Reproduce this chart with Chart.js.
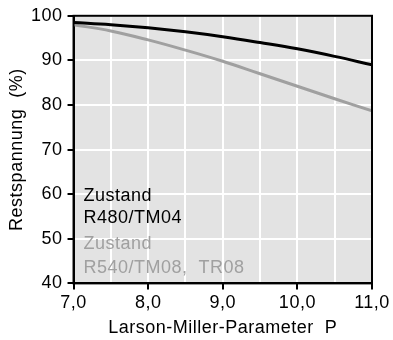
<!DOCTYPE html>
<html>
<head>
<meta charset="utf-8">
<script src="https://cdn.jsdelivr.net/npm/chart.js@4"></script>
<style>
  html, body { margin: 0; padding: 0; background: #fff; }
  #wrap { width: 393px; height: 340px; }
</style>
</head>
<body>
<div id="wrap"><canvas id="chart" width="393" height="340"></canvas></div>
<script>
// Larson-Miller-Parameter P
const pValues = [7.0, 7.5, 8.0, 8.5, 9.0, 9.5, 10.0, 10.5, 11.0];
// Restspannung (%) - Zustand R480/TM04
const restR480 = [98.5, 98.0, 97.3, 96.4, 95.3, 94.0, 92.6, 90.9, 89.0];
// Restspannung (%) - Zustand R540/TM08, TR08
const restR540 = [98.0, 96.6, 94.6, 92.3, 89.8, 87.0, 84.2, 81.4, 78.7];
const xTicks = [7, 8, 9, 10, 11];
const yTicks = [40, 50, 60, 70, 80, 90, 100];

const FONT = "'Liberation Sans', Arial, sans-serif";
const BLACK = "#000000";
const GREY = "#a0a0a0";

const toPoints = (ys) => pValues.map((p, i) => ({ x: p, y: ys[i] }));

// the reference text is slightly wide, so space the letters a bit
const spacing = {
  id: "spacing",
  beforeInit(chart) { chart.ctx.letterSpacing = "0.5px"; },
  beforeUpdate(chart) { chart.ctx.letterSpacing = "0.5px"; },
  beforeDraw(chart) { chart.ctx.letterSpacing = "0.5px"; }
};

// grey plot background + black frame
const frame = {
  id: "frame",
  beforeDraw(chart) {
    const { ctx, chartArea: a } = chart;
    ctx.save();
    ctx.fillStyle = "#e3e3e3";
    ctx.fillRect(a.left, a.top, a.right - a.left, a.bottom - a.top);
    ctx.restore();
  },
  afterDraw(chart) {
    const { ctx, chartArea: a } = chart;
    ctx.save();
    ctx.strokeStyle = BLACK;
    ctx.lineWidth = 2;
    ctx.strokeRect(a.left, a.top, a.right - a.left, a.bottom - a.top);
    ctx.restore();
  }
};

// legend texts inside the plot
const labels = {
  id: "labels",
  afterDatasetsDraw(chart) {
    const { ctx, chartArea: a } = chart;
    ctx.save();
    ctx.font = "18px " + FONT;
    ctx.textBaseline = "alphabetic";
    ctx.textAlign = "left";
    const x = a.left + 10;
    const y = chart.scales.y;
    ctx.fillStyle = BLACK;
    ctx.fillText("Zustand", x, y.getPixelForValue(58.4));
    ctx.fillText("R480/TM04", x, y.getPixelForValue(53.6));
    ctx.fillStyle = GREY;
    ctx.fillText("Zustand", x, y.getPixelForValue(47.8));
    ctx.fillText("R540/TM08,  TR08", x, y.getPixelForValue(42.4));
    ctx.restore();
  }
};

new Chart(document.getElementById("chart"), {
  type: "line",
  data: {
    datasets: [
      { data: toPoints(restR480), borderColor: BLACK, borderWidth: 3, tension: 0.4, pointRadius: 0, fill: false },
      { data: toPoints(restR540), borderColor: GREY, borderWidth: 3, tension: 0.4, pointRadius: 0, fill: false }
    ]
  },
  options: {
    responsive: false,
    animation: false,
    layout: { padding: { left: 8, right: 21, top: 11, bottom: 3 } },
    plugins: { legend: { display: false }, tooltip: { enabled: false } },
    scales: {
      x: {
        type: "linear",
        min: 7, max: 11,
        ticks: {
          stepSize: 0.5,
          autoSkip: false,
          maxRotation: 0,
          color: BLACK,
          font: { family: FONT, size: 18 },
          padding: 3,
          callback: (v) => xTicks.includes(v) ? v.toFixed(1).replace(".", ",") : ""
        },
        grid: {
          color: "#ffffff",
          lineWidth: 2,
          tickLength: 6,
          tickColor: (c) => xTicks.includes(c.tick && c.tick.value) ? BLACK : "rgba(0,0,0,0)",
          tickWidth: 2
        },
        border: { color: BLACK, width: 2 },
        title: { display: true, text: "Larson-Miller-Parameter  P", color: BLACK, font: { family: FONT, size: 18, lineHeight: 1 }, padding: { top: 2, bottom: 0 } }
      },
      y: {
        min: 40, max: 100,
        ticks: {
          stepSize: 10,
          color: BLACK,
          font: { family: FONT, size: 18 },
          padding: 5,
          callback: (v) => yTicks.includes(v) ? String(v) : ""
        },
        grid: { color: "#ffffff", lineWidth: 2, tickLength: 6, tickColor: BLACK, tickWidth: 2 },
        border: { color: BLACK, width: 2 },
        title: { display: true, text: "Restspannung  (%)", color: BLACK, font: { family: FONT, size: 18, lineHeight: 1 }, padding: { top: 0, bottom: 0 } }
      }
    }
  },
  plugins: [spacing, frame, labels]
});
</script>
</body>
</html>
